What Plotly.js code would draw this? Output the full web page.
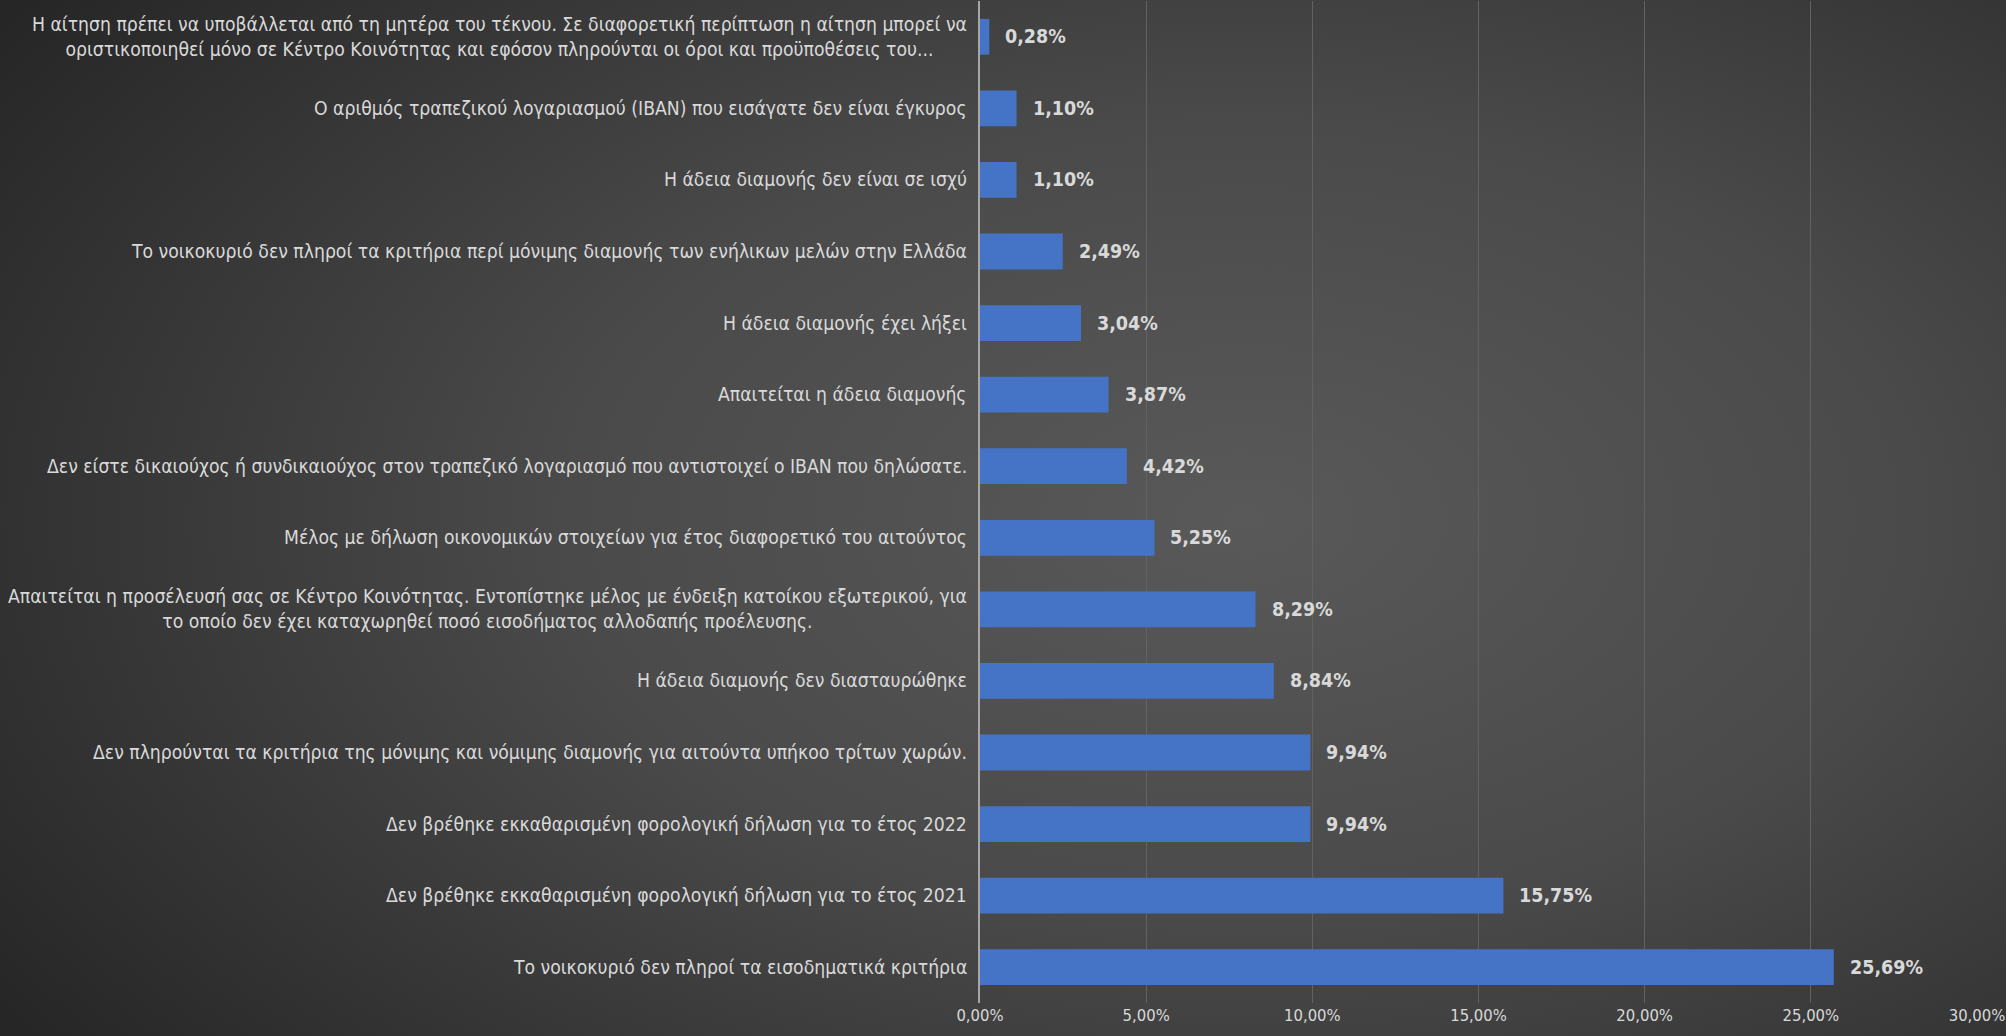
<!DOCTYPE html>
<html>
<head>
<meta charset="utf-8">
<script src="https://cdn.plot.ly/plotly-3.0.1.min.js"></script>
<style>
html,body{margin:0;padding:0;width:2006px;height:1036px;overflow:hidden;
background: radial-gradient(ellipse 75% 85% at 62% 50%, #595959 0%, #4a4a4a 45%, #262626 100%);}
#chart{width:2006px;height:1036px;}
</style>
</head>
<body>
<div id="chart"></div>
<script>
var categories = [
  "Η αίτηση πρέπει να υποβάλλεται από τη μητέρα του τέκνου. Σε διαφορετική περίπτωση η αίτηση μπορεί να<br>οριστικοποιηθεί μόνο σε Κέντρο Κοινότητας και εφόσον πληρούνται οι όροι και προϋποθέσεις του...",
  "Ο αριθμός τραπεζικού λογαριασμού (IBAN) που εισάγατε δεν είναι έγκυρος",
  "Η άδεια διαμονής δεν είναι σε ισχύ",
  "Το νοικοκυριό δεν πληροί τα κριτήρια περί μόνιμης διαμονής των ενήλικων μελών στην Ελλάδα",
  "Η άδεια διαμονής έχει λήξει",
  "Απαιτείται η άδεια διαμονής",
  "Δεν είστε δικαιούχος ή συνδικαιούχος στον τραπεζικό λογαριασμό που αντιστοιχεί ο IBAN που δηλώσατε.",
  "Μέλος με δήλωση οικονομικών στοιχείων για έτος διαφορετικό του αιτούντος",
  "Απαιτείται η προσέλευσή σας σε Κέντρο Κοινότητας. Εντοπίστηκε μέλος με ένδειξη κατοίκου εξωτερικού, για<br>το οποίο δεν έχει καταχωρηθεί ποσό εισοδήματος αλλοδαπής προέλευσης.",
  "Η άδεια διαμονής δεν διασταυρώθηκε",
  "Δεν πληρούνται τα κριτήρια της μόνιμης και νόμιμης διαμονής για αιτούντα υπήκοο τρίτων χωρών.",
  "Δεν βρέθηκε εκκαθαρισμένη φορολογική δήλωση για το έτος 2022",
  "Δεν βρέθηκε εκκαθαρισμένη φορολογική δήλωση για το έτος 2021",
  "Το νοικοκυριό δεν πληροί τα εισοδηματικά κριτήρια"
];
var values = [0.28, 1.10, 1.10, 2.49, 3.04, 3.87, 4.42, 5.25, 8.29, 8.84, 9.94, 9.94, 15.75, 25.69];
var tickValues = [0, 5, 10, 15, 20, 25, 30];
var tickLabels = tickValues.map(function(v){ return v.toFixed(2).replace(".", ",") + "%"; });

var fam = "DejaVu Sans Condensed, sans-serif";
var labelFont = {family: fam, size: 19.2, color: "#d9d9d9"};

var trace = {
  type: "bar",
  orientation: "h",
  y: categories,
  x: values,
  marker: {color: "#4573c6", line: {width: 0}},
  hoverinfo: "none"
};

var annotations = [];
categories.forEach(function(c, i){
  annotations.push({
    x: 0, y: c, xref: "x", yref: "y",
    text: c, showarrow: false, xanchor: "right", yanchor: "middle",
    align: "center", xshift: -11, font: labelFont
  });
  annotations.push({
    x: values[i], y: c, xref: "x", yref: "y",
    text: values[i].toFixed(2).replace(".", ",") + "%",
    showarrow: false, xanchor: "left", yanchor: "middle", xshift: 14,
    font: {family: fam, size: 19.5, color: "#d9d9d9", weight: "bold"}
  });
});

var layout = {
  width: 2006, height: 1036,
  paper_bgcolor: "rgba(0,0,0,0)",
  plot_bgcolor: "rgba(0,0,0,0)",
  margin: {l: 980, r: 29, t: 1, b: 33},
  bargap: 0.5,
  showlegend: false,
  xaxis: {
    range: [0, 30], tickmode: "array", tickvals: tickValues, ticktext: tickLabels,
    showgrid: true, gridcolor: "#626262", gridwidth: 1, zeroline: false,
    tickfont: {family: fam, size: 16.5, color: "#d9d9d9"},
    ticks: "", fixedrange: true
  },
  yaxis: {
    autorange: "reversed", showticklabels: false, showgrid: false,
    showline: true, linecolor: "#a6a6a6", linewidth: 2, ticks: "", fixedrange: true
  },
  annotations: annotations
};

Plotly.newPlot("chart", [trace], layout, {displayModeBar: false, staticPlot: true});
</script>
</body>
</html>
